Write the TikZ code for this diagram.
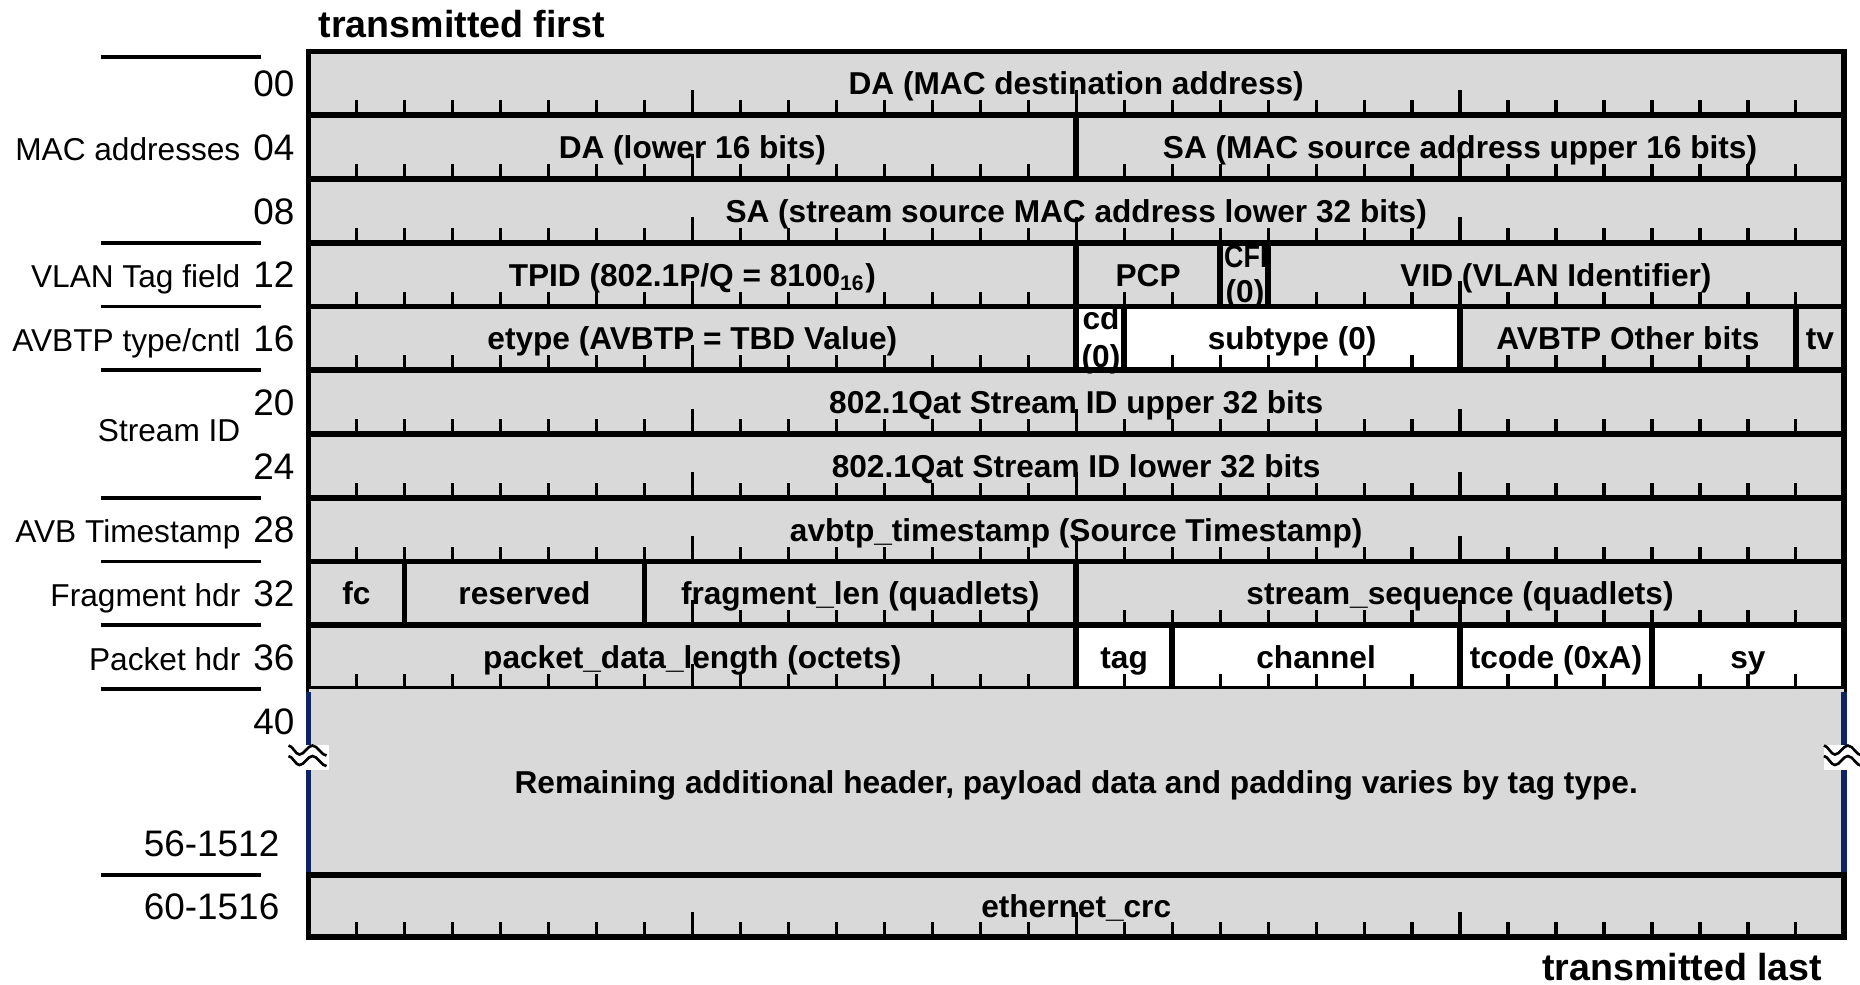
\documentclass[tikz,border=0pt]{standalone}
\usepackage{fontspec}
\usepackage{graphicx}
\setmainfont{Liberation Sans}
\usetikzlibrary{positioning}
\definecolor{fgray}{HTML}{D9D9D9}
\definecolor{fnavy}{HTML}{0F2463}
\tikzset{
  gcell/.style={draw=black, line width=1.6pt, fill=fgray, inner sep=0pt, outer sep=0pt,
                minimum height=0.6375cm, text height=6.6pt, text depth=0pt,
                font=\bfseries\fontsize{9}{11}\selectfont},
  wcell/.style={gcell, fill=white},
  bits/.style={minimum width=#1*0.4798cm},
  ftext/.style={anchor=base west, inner sep=0pt, font=\bfseries\fontsize{9}{11}\selectfont},
  btick/.style={line width=0.9pt},
  offs/.style={anchor=base east, inner sep=0pt, font=\fontsize{10.5}{12}\selectfont},
  grp/.style={anchor=base east, inner sep=0pt, font=\fontsize{9}{11}\selectfont},
  grpline/.style={line width=1.1pt},
  endtext/.style={inner sep=0pt, font=\bfseries\fontsize{10.7}{13}\selectfont},
  side/.style={line width=1.6pt, fnavy},
  brk/.pic={
    \fill[white] (-0.2cm,-0.125cm) rectangle (0.2cm,0.125cm);
    \foreach \dy in {0cm,-0.105cm}
      \draw[line width=0.75pt, yshift=\dy]
        (-0.2cm,0.12cm) cos (-0.145cm,0.075cm) sin (-0.09cm,0.03cm)
        cos (-0.025cm,0.075cm) sin (0.04cm,0.12cm)
        cos (0.11cm,0.07cm) sin (0.18cm,0.02cm);
  },
}

\begin{document}
\begin{tikzpicture}[x=0.4798cm, y=-0.6375cm]
  \useasboundingbox (-6.43,-0.808) rectangle (32.336,14.643);

  \node[endtext, anchor=base west] (first) at (0.2,-0.22) {transmitted first};
  \node[endtext, anchor=base east] (last) at (31.565,14.57) {transmitted last};

  % 00
  \node[gcell, bits=32] (da) at (16,0.5) {DA (MAC destination address)};
  % 04
  \node[gcell, bits=16] (dalo) at (8,1.5) {DA (lower 16 bits)};
  \node[gcell, bits=16, right=0pt of dalo] (sahi) {SA (MAC source address upper 16 bits)};
  % 08
  \node[gcell, bits=32] (salo) at (16,2.5) {SA (stream source MAC address lower 32 bits)};
  % 12
  \node[gcell, bits=16] (tpid) at (8,3.5) {TPID (802.1P/Q = 8100\textsubscript{16})};
  \node[gcell, bits=3, right=0pt of tpid] (pcp) {PCP};
  \node[gcell, bits=1, right=0pt of pcp] (cfi) {};
  \node[gcell, bits=12, right=0pt of cfi] (vid) {VID (VLAN Identifier)};
  % 16
  \node[gcell, bits=16] (etype) at (8,4.5) {etype (AVBTP = TBD Value)};
  \node[wcell, bits=1, right=0pt of etype] (cd) {};
  \node[wcell, bits=7, right=0pt of cd] (subtype) {subtype (0)};
  \node[gcell, bits=7, right=0pt of subtype] (other) {AVBTP Other bits};
  \node[gcell, bits=1, right=0pt of other] (tv) {tv};
  % 20, 24
  \node[gcell, bits=32] (sidhi) at (16,5.5) {802.1Qat Stream ID upper 32 bits};
  \node[gcell, bits=32] (sidlo) at (16,6.5) {802.1Qat Stream ID lower 32 bits};
  % 28
  \node[gcell, bits=32] (tstamp) at (16,7.5) {avbtp\_timestamp (Source Timestamp)};
  % 32
  \node[gcell, bits=2] (fc) at (1,8.5) {fc};
  \node[gcell, bits=5, right=0pt of fc] (rsvd) {reserved};
  \node[gcell, bits=9, right=0pt of rsvd] (fraglen) {fragment\_len (quadlets)};
  \node[gcell, bits=16, right=0pt of fraglen] (seq) {stream\_sequence (quadlets)};
  % 36
  \node[gcell, bits=16] (pdlen) at (8,9.5) {packet\_data\_length (octets)};
  \node[wcell, bits=2, right=0pt of pdlen] (tag) {tag};
  \node[wcell, bits=6, right=0pt of tag] (chan) {channel};
  \node[wcell, bits=4, right=0pt of chan] (tcode) {tcode (0xA)};
  \node[wcell, bits=4, right=0pt of tcode] (sy) {sy};
  % 40 .. 56-1512
  \node[gcell, draw=none, bits=32, minimum height=1.86cm] (rest) at (16,11.459)
    {Remaining additional header, payload data and padding varies by tag type.};
  % 60-1516
  \node[gcell, bits=32, minimum height=0.62cm, below=0pt of rest] (crc) {ethernet\_crc};

  % bit ticks, longer on byte boundaries
  \foreach \y in {1,...,8,10,13.89}
    \foreach \b in {1,...,31} {
      \pgfmathsetmacro\tkh{mod(\b,8)==0 ? 0.255 : 0.15}
      \draw[btick] (\b,\y) -- ++(0cm,\tkh cm);
    }
  \foreach \b in {8,...,31} {
    \pgfmathsetmacro\tkh{mod(\b,8)==0 ? 0.255 : 0.15}
    \draw[btick] (\b,9) -- ++(0cm,\tkh cm);
  }

  % one-bit fields
  \node[ftext] (cfia) at (19.07,3.39) {\scalebox{0.85}[1]{CFI}};
  \node[ftext] (cfib) at (19.1,3.94) {(0)};
  \node[ftext] (cda) at (16.12,4.36) {cd};
  \node[ftext] (cdb) at (16.1,4.96) {(0)};

  \draw[side] ([yshift=-0.8pt]rest.north west) -- ([yshift=0.8pt]rest.south west);
  \draw[side] ([yshift=-0.8pt]rest.north east) -- ([yshift=0.8pt]rest.south east);
  \pic at (0,11.075) {brk};
  \pic at (32,11.075) {brk};

  % offsets and groups
  \foreach \y in {0.086,3,4,5,7,8,9,10,12.918}
    \draw[grpline] (-4.325,\y) -- (-0.99,\y);
  \foreach \r/\t in {0/00,1/04,2/08,3/12,4/16,5/20,6/24,7/28,8/32,9/36,10/40}
    \node[offs] (off\t) at (-0.28,\r+0.707) {\t};
  \node[offs] (off56) at (-0.594,12.62) {56-1512};
  \node[offs] (off60) at (-0.594,13.61) {60-1516};

  \node[grp] (mac) at (-1.406,1.707) {MAC addresses};
  \node[grp] (vlan) at (-1.406,3.707) {VLAN Tag field};
  \node[grp] (avbtp) at (-1.406,4.707) {AVBTP type/cntl};
  \node[grp] (sid) at (-1.406,6.12) {Stream ID};
  \node[grp] (avbts) at (-1.406,7.707) {AVB Timestamp};
  \node[grp] (frag) at (-1.406,8.707) {Fragment hdr};
  \node[grp] (pkt) at (-1.406,9.707) {Packet hdr};
\end{tikzpicture}
\end{document}
